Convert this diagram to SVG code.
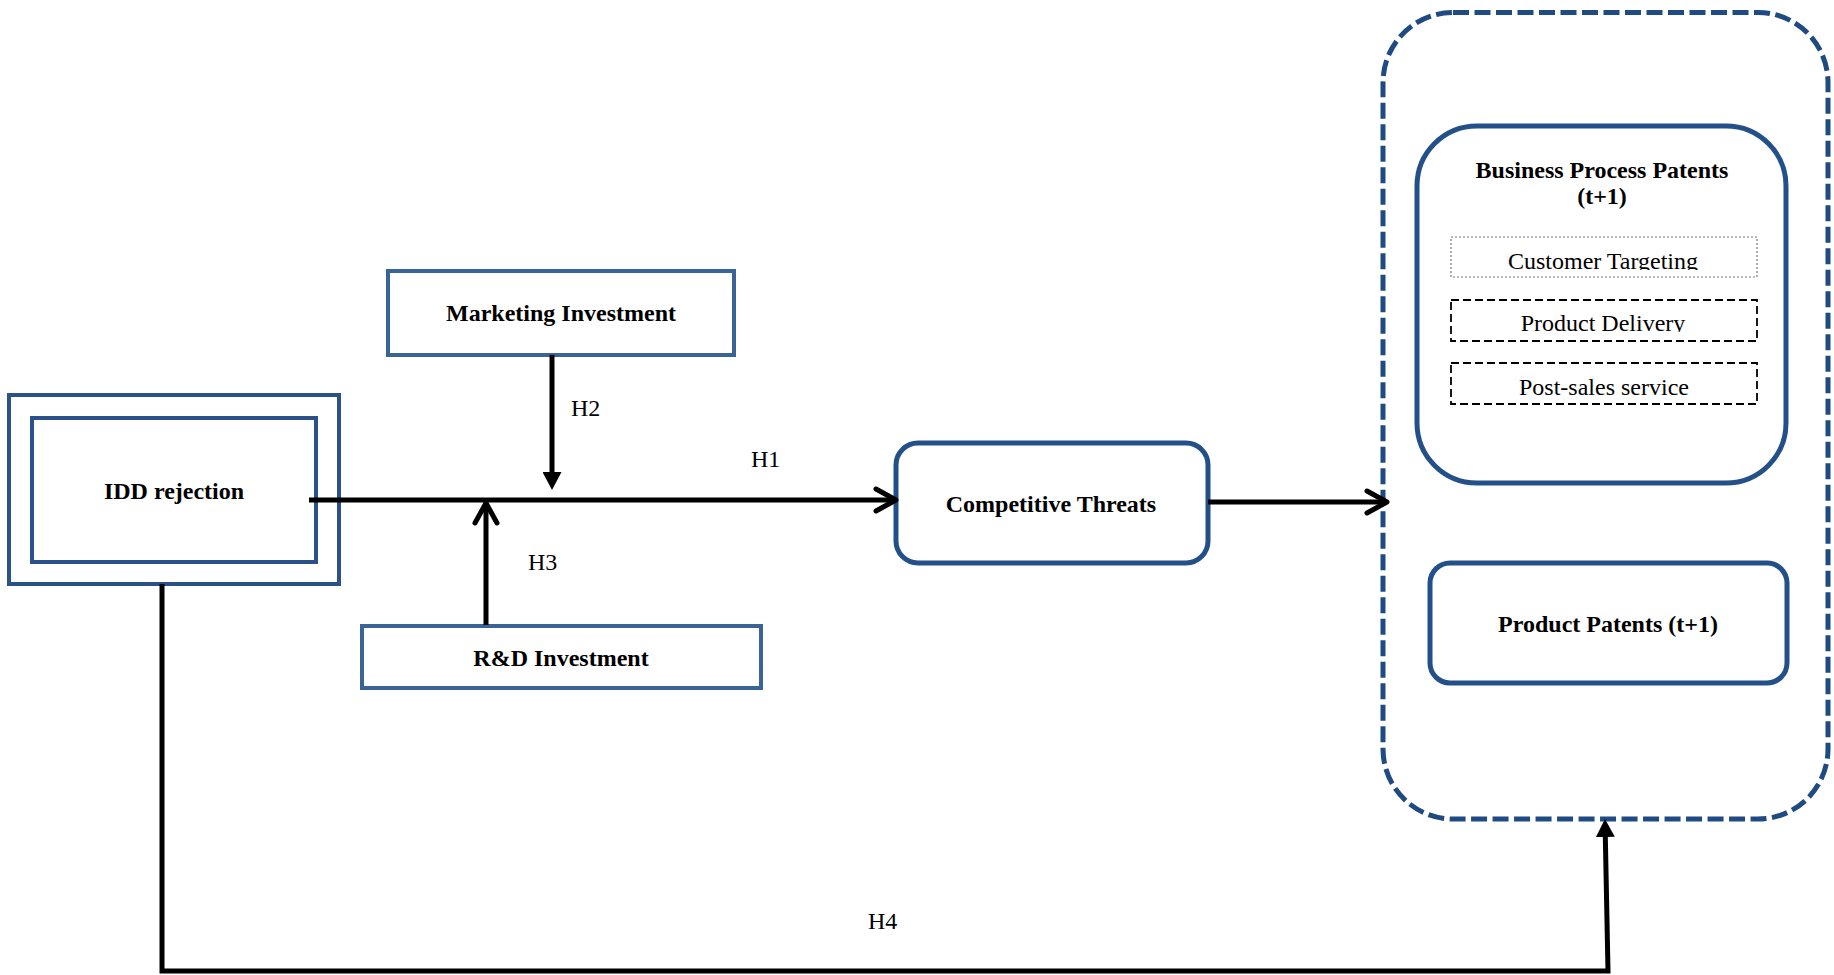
<svg xmlns="http://www.w3.org/2000/svg" width="1834" height="975" viewBox="0 0 1834 975">
<style>
  .t { font-family: "Liberation Serif", "Times New Roman", serif; font-size: 24px; fill: #000; }
  .b { font-weight: bold; }
  .mid { text-anchor: middle; }
  .box1 { fill: #fff; stroke: #2A5288; stroke-width: 4; }
  .box2 { fill: #fff; stroke: #3A6496; stroke-width: 4; }
  .rbox { fill: #fff; stroke: #24508A; stroke-width: 5; }
  .cont { fill: none; stroke: #1F4A82; stroke-width: 5; stroke-dasharray: 16 5.5; }
  .sub1 { fill: #fff; stroke: #777; stroke-width: 1.2; stroke-dasharray: 2 2; }
  .sub2 { fill: #fff; stroke: #000; stroke-width: 1.8; stroke-dasharray: 8 4; }
  .ln { fill: none; stroke: #000; stroke-width: 5; }
</style>
<defs>
  <marker id="open" viewBox="0 0 26 28" markerWidth="26" markerHeight="28" refX="23" refY="14" orient="auto" markerUnits="userSpaceOnUse">
    <path d="M3,3 L23,14 L3,25" fill="none" stroke="#000" stroke-width="5" stroke-linecap="round" stroke-linejoin="round"/>
  </marker>
  <marker id="fill" viewBox="0 0 18 19" markerWidth="18" markerHeight="19" refX="6" refY="9.5" orient="auto" markerUnits="userSpaceOnUse">
    <path d="M0,0 L18,9.5 L0,19 Z" fill="#000"/>
  </marker>
  <clipPath id="clipCT"><rect x="1451" y="237" width="306" height="33"/></clipPath>
  <clipPath id="clipPD"><rect x="1451" y="300" width="306" height="32"/></clipPath>
</defs>

<g id="idd-rejection">
  <rect class="box1" x="9" y="395" width="330" height="189"/>
  <rect class="box1" x="32" y="418" width="284" height="144"/>
  <text class="t b mid" x="174" y="499">IDD rejection</text>
</g>

<g id="marketing-investment">
  <rect class="box2" x="388" y="271" width="346" height="84"/>
  <text class="t b mid" x="561" y="321">Marketing Investment</text>
</g>

<g id="rd-investment">
  <rect class="box2" x="362" y="626" width="399" height="62"/>
  <text class="t b mid" x="561" y="666">R&amp;D Investment</text>
</g>

<g id="competitive-threats">
  <rect class="rbox" x="896" y="443" width="312" height="120" rx="22" ry="22"/>
  <text class="t b mid" x="1051" y="512">Competitive Threats</text>
</g>

<g id="outcomes">
  <rect class="cont" x="1383" y="12.5" width="445" height="806.5" rx="70" ry="70"/>
</g>

<g id="business-process-patents">
  <rect class="rbox" x="1417" y="126" width="369" height="357" rx="60" ry="60"/>
  <text class="t b mid" x="1602" y="178">Business Process Patents</text>
  <text class="t b mid" x="1602" y="204">(t+1)</text>
  <g id="customer-targeting">
    <rect class="sub1" x="1451" y="237" width="306" height="40"/>
    <text class="t mid" x="1603" y="269" clip-path="url(#clipCT)">Customer Targeting</text>
  </g>
  <g id="product-delivery">
    <rect class="sub2" x="1451" y="300" width="306" height="41"/>
    <text class="t mid" x="1603" y="331" clip-path="url(#clipPD)">Product Delivery</text>
  </g>
  <g id="post-sales-service">
    <rect class="sub2" x="1451" y="363" width="306" height="41"/>
    <text class="t mid" x="1604" y="395">Post-sales service</text>
  </g>
</g>

<g id="product-patents">
  <rect class="rbox" x="1430" y="563" width="357" height="120" rx="20" ry="20"/>
  <text class="t b mid" x="1608" y="632">Product Patents (t+1)</text>
</g>

<g id="connectors">
  <line class="ln" x1="309" y1="500" x2="896" y2="500" marker-end="url(#open)"/>
  <line class="ln" x1="552" y1="355" x2="552" y2="478" marker-end="url(#fill)"/>
  <line class="ln" x1="486" y1="625" x2="486" y2="503" marker-end="url(#open)"/>
  <line class="ln" x1="1208" y1="502" x2="1387" y2="502" marker-end="url(#open)"/>
  <path class="ln" d="M162,584 L162,971 L1608,971 L1605.2,831" marker-end="url(#fill)"/>
  <text class="t" x="751" y="467">H1</text>
  <text class="t" x="571" y="416">H2</text>
  <text class="t" x="528" y="570">H3</text>
  <text class="t" x="868" y="929">H4</text>
</g>
</svg>
